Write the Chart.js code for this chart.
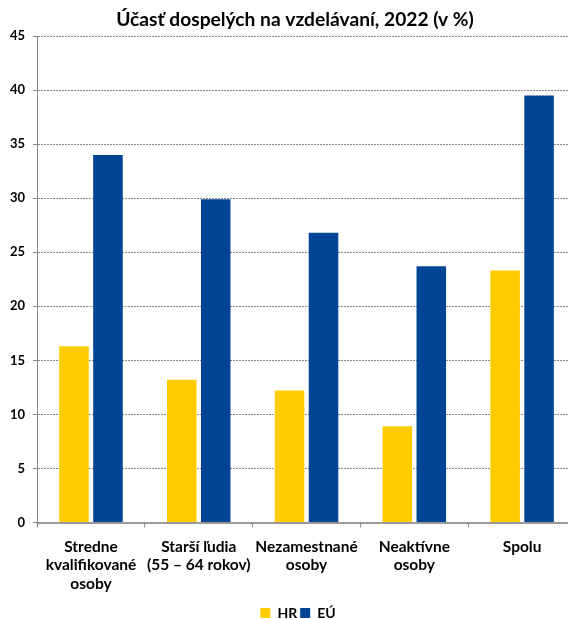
<!DOCTYPE html>
<html>
<head>
<meta charset="utf-8">
<script src="https://cdn.jsdelivr.net/npm/chart.js@4"></script>
<style>
    html, body { margin: 0; padding: 0; overflow: hidden; background: #fff; }
    #wrap { width: 576px; height: 630px; }
</style>
</head>
<body>
<div id="wrap"><canvas id="eduChart" width="576" height="630"></canvas></div>
<script>
const categories = [
    ['Stredne', 'kvalifikované', 'osoby'],
    ['Starší ľudia', '(55 – 64 rokov)'],
    ['Nezamestnané', 'osoby'],
    ['Neaktívne', 'osoby'],
    'Spolu'
];
const hrValues = [16.3, 13.2, 12.2, 8.9, 23.3];
const euValues = [34.0, 29.9, 26.8, 23.7, 39.5];
const yMax = 45;
const yStep = 5;

const fontFamily = 'Lato, "Open Sans", sans-serif';

// the plot runs a little past the right edge of the picture, so title and legend sit a bit right of center
const shiftBoxes = {
    id: 'shiftBoxes',
    afterLayout(chart) {
        if (chart.titleBlock) {
            chart.titleBlock.left += 6;
            chart.titleBlock.right += 6;
        }
        if (chart.legend) {
            chart.legend.left += 9;
            chart.legend.right += 9;
        }
    }
};

const ctx = document.getElementById('eduChart').getContext('2d');
const eduChart = new Chart(ctx, {
    type: 'bar',
    data: {
        labels: categories,
        datasets: [
            { label: 'HR', data: hrValues, backgroundColor: '#FFCC00', barPercentage: 0.87, categoryPercentage: 0.63 },
            { label: 'EÚ', data: euValues, backgroundColor: '#004494', barPercentage: 0.87, categoryPercentage: 0.63 }
        ]
    },
    options: {
        responsive: false,
        animation: false,
        layout: { padding: { left: 2, right: 0, top: 8, bottom: 0 } },
        plugins: {
            title: {
                display: true,
                text: 'Účasť dospelých na vzdelávaní, 2022 (v %)',
                color: '#000',
                font: { family: fontFamily, size: 19.2, weight: 'bold' },
                padding: { top: 0, bottom: 5 }
            },
            legend: {
                position: 'bottom',
                labels: {
                    color: '#000',
                    boxWidth: 10,
                    boxHeight: 10,
                    padding: 3,
                    font: { family: fontFamily, size: 14, weight: 'bold' }
                }
            },
            tooltip: { enabled: false }
        },
        scales: {
            x: {
                grid: { offset: true, drawOnChartArea: false, drawTicks: true, tickLength: 5, color: '#888' },
                border: { color: '#999', width: 2 },
                ticks: {
                    color: '#000',
                    padding: 10,
                    maxRotation: 0,
                    autoSkip: false,
                    font: { family: fontFamily, size: 15.5, weight: 'bold', lineHeight: '18.5px' }
                }
            },
            y: {
                min: 0,
                max: yMax,
                grid: { color: '#888', tickLength: 4 },
                border: { color: '#888', width: 1, dash: [2, 1] },
                ticks: {
                    stepSize: yStep,
                    color: '#000',
                    padding: 8,
                    font: { family: fontFamily, size: 13, weight: 'bold' }
                }
            }
        }
    },
    plugins: [shiftBoxes]
});
</script>
</body>
</html>
